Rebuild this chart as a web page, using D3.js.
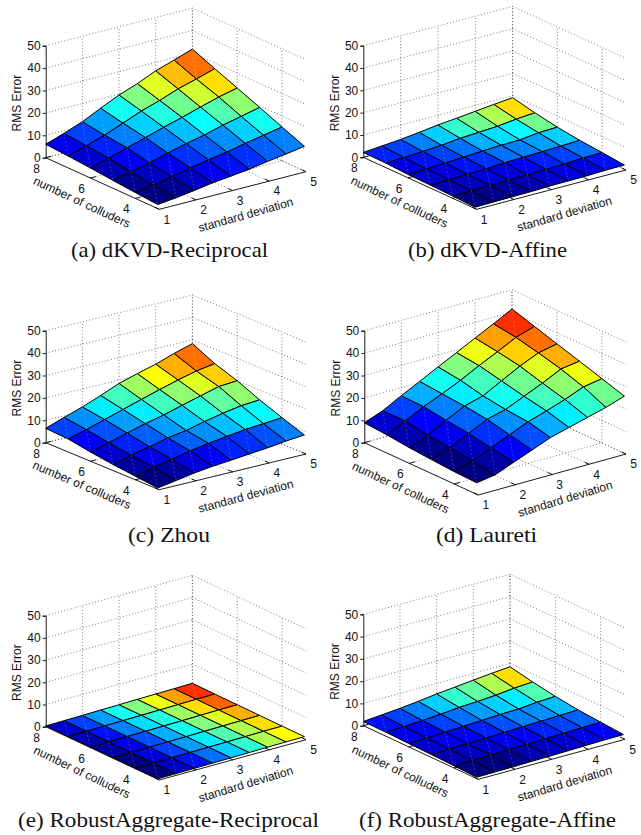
<!DOCTYPE html>
<html>
<head>
<meta charset="utf-8">
<script src="https://cdn.jsdelivr.net/npm/d3@7"></script>
<style>
    html, body { margin: 0; padding: 0; background: #fff; }
    svg { display: block; }
    .tick-text { font-family: "Liberation Sans", Arial, sans-serif; font-size: 12px; fill: #111; }
    .caption { font-family: "Liberation Serif", serif; font-size: 21px; fill: #111; }
</style>
</head>
<body>
<div id="graph"></div>
<script>
var stdDevs = [1, 1.5, 2, 2.5, 3, 3.5, 4, 4.5, 5];
var colluders = [8, 7, 6, 5, 4, 3];
var stdTicks = [1, 2, 3, 4, 5];
var colluderTicks = [8, 6, 4];
var zTicks = [0, 10, 20, 30, 40, 50];

// one row per number of colluders (8 down to 3)
var dkvdReciprocal = [
    [6.0, 8.8, 11.9, 15.8, 19.6, 22.6, 26.2, 28.9, 31.7],
    [5.3, 7.8, 10.4, 13.7, 17.0, 19.6, 22.7, 25.0, 27.5],
    [4.5, 6.8, 9.3, 11.8, 14.3, 16.6, 19.1, 21.5, 23.4],
    [3.5, 5.1, 7.1, 9.4, 11.5, 13.3, 15.6, 17.4, 19.3],
    [2.6, 3.9, 5.5, 7.3, 8.8, 10.2, 12.0, 13.5, 15.1],
    [1.8, 2.7, 3.9, 5.2, 6.1, 7.1, 8.5, 9.7, 11.0]
];
var dkvdAffine = [
    [2.2, 2.9, 3.6, 4.6, 5.7, 6.5, 7.4, 8.3, 9.1],
    [2.0, 2.3, 2.8, 3.4, 4.3, 4.8, 5.3, 6.3, 6.9],
    [1.5, 1.8, 2.2, 2.7, 3.2, 3.6, 3.8, 4.8, 5.1],
    [1.3, 1.5, 1.8, 2.1, 2.6, 2.8, 3.1, 3.4, 3.8],
    [1.0, 1.2, 1.4, 1.5, 1.7, 2.0, 2.2, 2.7, 2.9],
    [0.6, 0.8, 0.9, 1.0, 1.3, 1.4, 1.5, 1.8, 1.9]
];
var zhou = [
    [6.4, 9.3, 12.0, 15.1, 18.5, 20.9, 23.1, 25.9, 28.3],
    [5.8, 8.0, 10.5, 13.0, 15.5, 17.9, 20.2, 22.2, 23.5],
    [4.1, 6.3, 8.6, 10.8, 12.7, 15.0, 17.2, 19.4, 20.0],
    [2.7, 4.9, 6.6, 8.6, 9.9, 11.9, 13.6, 15.0, 15.6],
    [1.6, 3.6, 5.2, 6.9, 8.3, 9.4, 10.5, 11.1, 11.8],
    [0.5, 1.8, 3.2, 4.2, 4.9, 5.7, 6.5, 7.5, 8.2]
];
var laureti = [
    [8.9, 12.0, 16.4, 20.5, 24.7, 28.8, 33.0, 37.1, 41.4],
    [8.1, 12.0, 16.1, 19.6, 23.3, 27.6, 31.5, 35.6, 38.2],
    [7.0, 10.2, 14.7, 18.7, 21.0, 25.4, 29.7, 33.3, 35.0],
    [6.2, 9.4, 13.4, 17.4, 19.5, 23.1, 26.7, 30.7, 31.9],
    [5.5, 7.9, 11.6, 15.1, 18.6, 21.2, 24.0, 27.3, 28.7],
    [5.1, 6.4, 9.7, 12.9, 16.2, 18.4, 20.6, 22.8, 25.5]
];
var robustReciprocal = [
    [0.31, 0.44, 0.57, 0.70, 0.82, 0.97, 1.11, 1.24, 1.40],
    [0.30, 0.43, 0.54, 0.68, 0.80, 0.94, 1.08, 1.21, 1.28],
    [0.26, 0.38, 0.50, 0.63, 0.70, 0.85, 1.00, 1.14, 1.21],
    [0.24, 0.34, 0.46, 0.57, 0.67, 0.80, 0.93, 1.06, 1.14],
    [0.21, 0.32, 0.43, 0.55, 0.64, 0.75, 0.87, 1.00, 1.06],
    [0.20, 0.28, 0.37, 0.49, 0.60, 0.72, 0.86, 0.96, 1.04]
];
var robustAffine = [
    [1.9, 2.6, 3.3, 4.2, 5.3, 6.1, 7.0, 7.8, 8.5],
    [1.8, 2.1, 2.6, 3.2, 4.0, 4.4, 5.0, 5.9, 6.4],
    [1.5, 1.7, 2.1, 2.5, 2.9, 3.3, 3.5, 4.3, 4.7],
    [1.3, 1.5, 1.7, 1.9, 2.3, 2.6, 2.8, 3.1, 3.4],
    [1.0, 1.1, 1.3, 1.5, 1.6, 1.9, 2.1, 2.4, 2.6],
    [0.6, 0.7, 0.8, 1.0, 1.1, 1.3, 1.5, 1.7, 1.8]
];
var captions = [
    "(a) dKVD-Reciprocal", "(b) dKVD-Affine", "(c) Zhou",
    "(d) Laureti", "(e) RobustAggregate-Reciprocal", "(f) RobustAggregate-Affine"
];
var surfaces = [dkvdReciprocal, dkvdAffine, zhou, laureti, robustReciprocal, robustAffine];

// page positions of each box: left/front/right floor corners, height of z axis, caption
var boxes = [
    { left: [45.7, 157.7], front: [159.3, 209.3], right: [306, 171.7], top: 45.7, cap: [71, 257, 197] },
    { left: [363.3, 157.3], front: [476.7, 209.3], right: [626, 170], top: 45.7, cap: [408, 257, 159] },
    { left: [45.7, 442.7], front: [159.3, 489.7], right: [306, 454], top: 330.7, cap: [128, 541.7, 82] },
    { left: [364.3, 442.7], front: [478.3, 495], right: [626, 454], top: 330.7, cap: [436, 541.7, 101] },
    { left: [45.7, 726.7], front: [159.3, 780], right: [306, 739.7], top: 615.7, cap: [18, 827, 301] },
    { left: [363.3, 725.7], front: [478.3, 779.3], right: [625, 739.3], top: 614.3, cap: [359, 827, 257] }
];

var width = 641, height = 835;
var svg = d3.select("#graph").append("svg")
    .attr("width", width)
    .attr("height", height);

// MATLAB jet, 64 levels
var jet = d3.scaleLinear()
    .domain([0, 0.125, 0.375, 0.625, 0.875, 1])
    .range(["#000080", "#0000ff", "#00ffff", "#ffff00", "#ff0000", "#800000"]);

var sFrac = d3.scaleLinear().domain([1, 5]).range([0, 1]);
var cFrac = d3.scaleLinear().domain([8, 2.93]).range([0, 1]);
var pathLine = d3.line();

function drawPanel(values, box, caption) {
    var g = svg.append("g");
    var sVec = [box.right[0] - box.front[0], box.right[1] - box.front[1]];
    var cVec = [box.front[0] - box.left[0], box.front[1] - box.left[1]];
    var z = d3.scaleLinear().domain([0, 50]).range([box.left[1], box.top]);
    var zRise = function (v) { return z(v) - z(0); };

    function project(s, c, v) {
        var a = sFrac(s), b = cFrac(c);
        return [box.left[0] + a * sVec[0] + b * cVec[0],
                box.left[1] + a * sVec[1] + b * cVec[1] + zRise(v)];
    }

    // dotted grid on the floor and the two back walls
    var grid = g.append("g")
        .attr("fill", "none")
        .attr("stroke", "#444")
        .attr("stroke-width", 0.7)
        .attr("stroke-dasharray", "1,2.2");
    function gridLine(a, b) {
        grid.append("path").attr("d", pathLine([a, b]));
    }
    var cEnd = cFrac.domain()[1];
    zTicks.forEach(function (t) {
        gridLine(project(1, 8, t), project(5, 8, t));
        gridLine(project(5, 8, t), project(5, cEnd, t));
    });
    stdTicks.slice(1).forEach(function (t) {
        gridLine(project(t, 8, 0), project(t, 8, 50));
        gridLine(project(t, 8, 0), project(t, cEnd, 0));
    });
    colluderTicks.forEach(function (t) {
        gridLine(project(5, t, 0), project(5, t, 50));
        gridLine(project(1, t, 0), project(5, t, 0));
    });

    // solid axes on the floor
    var axes = g.append("g").attr("fill", "none").attr("stroke", "#000").attr("stroke-width", 0.9);
    axes.append("path").attr("d", pathLine([project(1, 8, 0), project(1, cEnd, 0), project(5, cEnd, 0)]));
    stdTicks.forEach(function (t) {
        var p = project(t, cEnd, 0), q = project(t, cEnd + 0.2, 0);
        axes.append("path").attr("d", pathLine([p, q]));
        g.append("text").attr("class", "tick-text")
            .attr("x", p[0] + 7.5).attr("y", p[1] + 10).attr("dy", "0.36em")
            .attr("text-anchor", "middle").text(t);
    });
    colluderTicks.forEach(function (t) {
        var p = project(1, t, 0), q = project(1.15, t, 0);
        axes.append("path").attr("d", pathLine([p, q]));
        g.append("text").attr("class", "tick-text")
            .attr("x", p[0] - 9).attr("y", p[1] + 10.5).attr("dy", "0.36em")
            .attr("text-anchor", "middle").text(t);
    });

    // z axis
    var zAxis = d3.axisLeft(z).tickValues(zTicks).tickSizeOuter(0).tickSize(3).tickPadding(2);
    var za = g.append("g")
        .attr("transform", "translate(" + box.left[0] + ",0)")
        .call(zAxis);
    za.selectAll("path, line").attr("stroke", "#000").attr("stroke-width", 0.9);
    za.selectAll("text").attr("class", "tick-text");

    // surface, back cells first; a cell takes its colour from its low s, low c corner
    var color = d3.scaleLinear().domain(d3.extent(d3.merge(values))).range([0, 1]);
    var surf = g.append("g");
    colluders.slice(1).forEach(function (c, j) {
        stdDevs.slice(0, -1).forEach(function (s, i) {
            var r = j + 1;
            var level = Math.floor(color(values[r][i]) * 64) / 64;
            var s2 = stdDevs[i + 1], c2 = colluders[j];
            var a = project(s, c, values[r][i]),
                b = project(s2, c, values[r][i + 1]),
                e = project(s2, c2, values[j][i + 1]),
                f = project(s, c2, values[j][i]);
            surf.append("path")
                .attr("d", pathLine([a, b, e, f]) + "Z")
                .attr("fill", jet(level))
                .attr("stroke", "#000")
                .attr("stroke-width", 1)
                .attr("stroke-linejoin", "round");
            // pale seam where the quad was split
            surf.append("path")
                .attr("class", "seam")
                .attr("d", pathLine([e, a]))
                .attr("stroke", "#fff")
                .attr("stroke-opacity", 0.3)
                .attr("stroke-width", 0.7)
                .attr("stroke-dasharray", "2,2");
        });
    });
    surf.selectAll(".seam").raise();

    // axis titles
    var cMid = project(1, (8 + cEnd) / 2, 0);
    var cAngle = Math.atan2(cVec[1], cVec[0]) * 180 / Math.PI;
    g.append("text").attr("class", "tick-text")
        .attr("transform", "translate(" + (cMid[0] - 20.5) + "," + (cMid[1] + 18.5) + ") rotate(" + (cAngle + 0.5) + ")")
        .attr("text-anchor", "middle").attr("dy", "0.36em")
        .text("number of colluders");
    var sMid = project(3, cEnd, 0);
    var sAngle = Math.atan2(sVec[1], sVec[0]) * 180 / Math.PI;
    g.append("text").attr("class", "tick-text")
        .attr("transform", "translate(" + (sMid[0] + 13) + "," + (sMid[1] + 24) + ") rotate(" + (sAngle - 1.5) + ")")
        .attr("text-anchor", "middle").attr("dy", "0.36em")
        .text("standard deviation");
    g.append("text").attr("class", "tick-text")
        .attr("transform", "translate(" + (box.left[0] - 29) + "," + ((box.left[1] + box.top) / 2 + 1.5) + ") rotate(-90)")
        .attr("text-anchor", "middle").attr("dy", "0.36em")
        .text("RMS Error");

    g.append("text").attr("class", "caption")
        .attr("x", box.cap[0]).attr("y", box.cap[1])
        .attr("textLength", box.cap[2]).attr("lengthAdjust", "spacingAndGlyphs")
        .text(caption);
}

surfaces.forEach(function (values, i) {
    drawPanel(values, boxes[i], captions[i]);
});
</script>
</body>
</html>
